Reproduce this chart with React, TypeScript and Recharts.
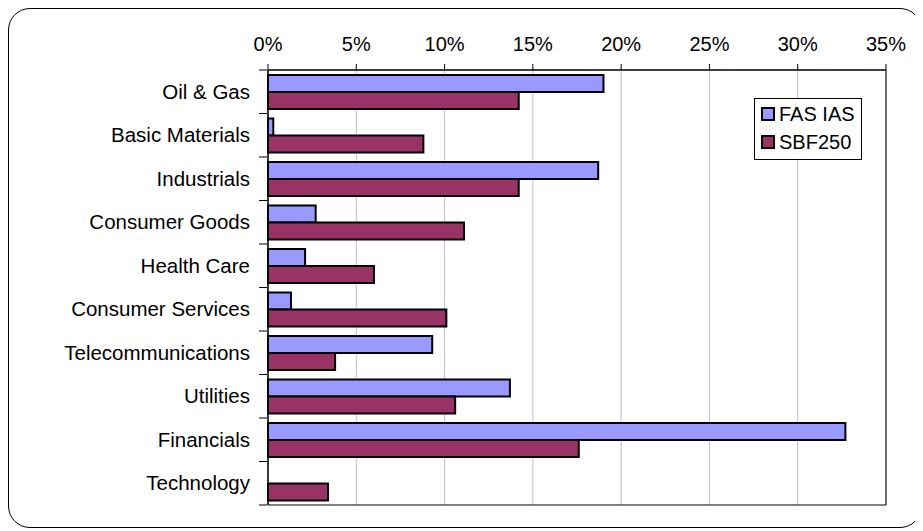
import { BarChart, Bar, XAxis, YAxis, CartesianGrid, ReferenceArea } from 'recharts';

const sectors = [
  'Oil & Gas',
  'Basic Materials',
  'Industrials',
  'Consumer Goods',
  'Health Care',
  'Consumer Services',
  'Telecommunications',
  'Utilities',
  'Financials',
  'Technology',
];
const fasIas = [19.0, 0.3, 18.7, 2.7, 2.1, 1.3, 9.3, 13.7, 32.7, 0];
const sbf250 = [14.2, 8.8, 14.2, 11.1, 6.0, 10.1, 3.8, 10.6, 17.6, 3.4];
const pctTicks = [0, 5, 10, 15, 20, 25, 30, 35];

const data = sectors.map((name, i) => ({ name, 'FAS IAS': fasIas[i], SBF250: sbf250[i] }));

const FONT = 'Arial, "Liberation Sans", sans-serif';
const BAND = 43.5;

function SectorTick(props: any) {
  const { x, y, payload, index } = props;
  const half = BAND / 2;
  return (
    <g>
      <text x={x - 10} y={y} dy={7} textAnchor="end" fontSize={20.5} fontFamily={FONT} fill="#000">
        {payload.value}
      </text>
      {index === 0 && <line x1={x - 1} x2={x + 7} y1={y - half} y2={y - half} stroke="#000" />}
      <line x1={x - 1} x2={x + 7} y1={y + half} y2={y + half} stroke="#000" />
    </g>
  );
}

function LegendBox() {
  const items = [
    { label: 'FAS IAS', color: '#9999FF' },
    { label: 'SBF250', color: '#993366' },
  ];
  return (
    <div
      style={{
        position: 'absolute',
        left: 745,
        top: 89,
        border: '1px solid #000',
        background: '#fff',
        width: 108,
        height: 62,
        padding: '1px 0 0 6px',
        boxSizing: 'border-box',
        fontFamily: FONT,
        fontSize: 20,
        lineHeight: '28px',
      }}
    >
      {items.map((it) => (
        <div key={it.label} style={{ display: 'flex', alignItems: 'center', height: 28 }}>
          <span
            style={{
              width: 10,
              height: 10,
              background: it.color,
              border: '2px solid #000',
              marginRight: 4,
              flex: 'none',
            }}
          />
          {it.label}
        </div>
      ))}
    </div>
  );
}

export default function App() {
  return (
    <div
      style={{
        width: 914,
        height: 520,
        border: '1px solid #000',
        borderRadius: 22,
        boxSizing: 'border-box',
        background: '#fff',
        position: 'relative',
        overflow: 'hidden',
      }}
    >
      <BarChart
        width={912}
        height={518}
        data={data}
        layout="vertical"
        margin={{ top: 21, right: 35, bottom: 22, left: 0 }}
        barCategoryGap={5}
        barGap={0}
      >
        <CartesianGrid horizontal={false} stroke="#c0c0c0" />
        <XAxis
          type="number"
          orientation="top"
          domain={[0, 35]}
          ticks={pctTicks}
          tickFormatter={(v) => `${v}%`}
          height={40}
          axisLine={{ stroke: '#000' }}
          tickLine={{ stroke: '#000' }}
          tickSize={6}
          tickMargin={13}
          tick={{ fontSize: 20, fontFamily: FONT, fill: '#000' }}
          interval={0}
        />
        <YAxis
          type="category"
          dataKey="name"
          width={259}
          axisLine={{ stroke: '#000' }}
          tickLine={false}
          tick={<SectorTick />}
          interval={0}
        />
        <ReferenceArea x1={0} x2={35} fill="none" stroke="#000" strokeWidth={1} ifOverflow="visible" />
        <Bar dataKey="FAS IAS" fill="#9999FF" stroke="#000" strokeWidth={2} isAnimationActive={false} />
        <Bar dataKey="SBF250" fill="#993366" stroke="#000" strokeWidth={2} isAnimationActive={false} />
      </BarChart>
      <LegendBox />
    </div>
  );
}
